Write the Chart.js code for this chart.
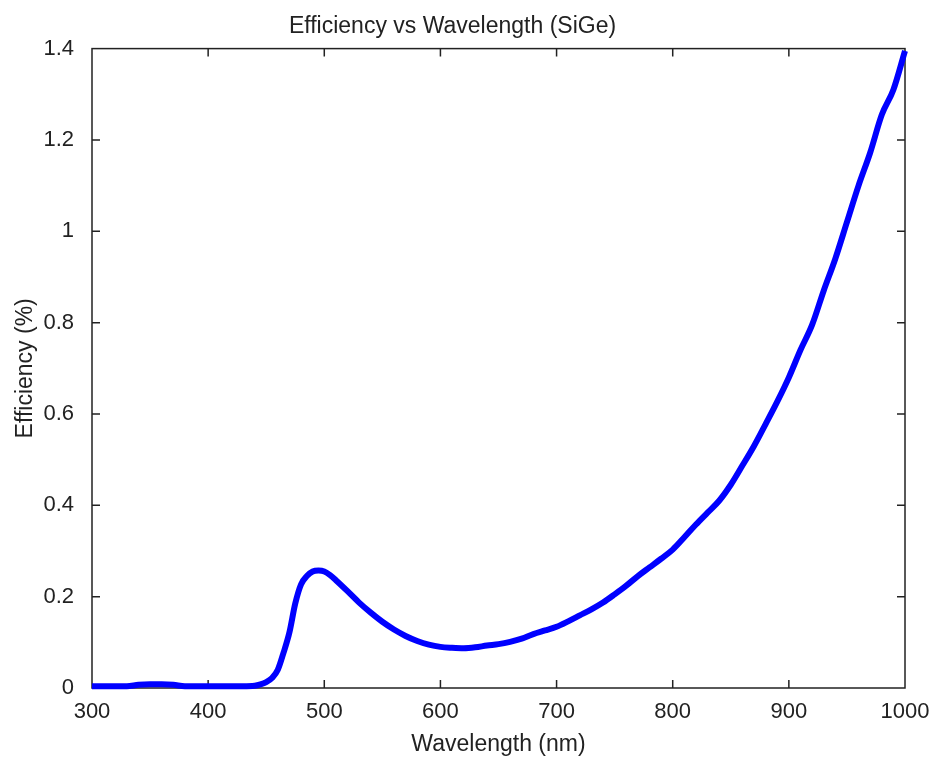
<!DOCTYPE html>
<html>
<head>
<meta charset="utf-8">
<title>Efficiency vs Wavelength (SiGe)</title>
<script src="https://cdn.jsdelivr.net/npm/chart.js@4/dist/chart.umd.min.js"></script>
<style>
  html, body { margin: 0; padding: 0; background: #fff; }
  #wrap { width: 936px; height: 760px; }
</style>
</head>
<body>
<div id="wrap"><canvas id="chart" width="936" height="760"></canvas></div>
<script>
// wavelength in nm
const wavelengths = [
  300, 310, 320, 330, 340, 350, 360, 370, 380, 390,
  400, 410, 420, 430, 440, 445, 450, 455, 460, 465,
  470, 475, 480, 485, 490, 495, 500, 505, 510, 520,
  530, 540, 550, 560, 570, 580, 590, 600, 610, 620,
  630, 640, 650, 660, 670, 680, 690, 700, 710, 720,
  730, 740, 750, 760, 770, 780, 790, 800, 810, 820,
  830, 840, 850, 860, 870, 880, 890, 900, 910, 920,
  930, 940, 950, 960, 970, 980, 990, 1000
];
// efficiency in %
const efficiency = [
  0.004, 0.004, 0.004, 0.004, 0.007, 0.008, 0.008, 0.007, 0.004, 0.004,
  0.004, 0.004, 0.004, 0.004, 0.005, 0.008, 0.013, 0.022, 0.040, 0.078,
  0.122, 0.185, 0.227, 0.245, 0.255, 0.257, 0.255, 0.247, 0.236, 0.212,
  0.187, 0.165, 0.145, 0.128, 0.114, 0.103, 0.095, 0.090, 0.088, 0.087,
  0.089, 0.093, 0.096, 0.101, 0.108, 0.118, 0.126, 0.134, 0.146, 0.159,
  0.172, 0.187, 0.205, 0.224, 0.245, 0.264, 0.283, 0.303, 0.330, 0.358,
  0.384, 0.410, 0.445, 0.487, 0.530, 0.578, 0.627, 0.680, 0.740, 0.795,
  0.870, 0.940, 1.020, 1.100, 1.172, 1.255, 1.310, 1.395
];
const xTicks = [300, 400, 500, 600, 700, 800, 900, 1000];
const yTicks = [0, 0.2, 0.4, 0.6, 0.8, 1, 1.2, 1.4];

const FONT = '"Liberation Sans", Arial, sans-serif';
const INK = '#222';

// box around the axes with inward ticks on all four sides
const frameTicks = {
  id: 'frameTicks',
  beforeDatasetsDraw(chart) {
    const { ctx, chartArea: a, scales } = chart;
    const len = 8;
    ctx.save();
    ctx.strokeStyle = INK;
    ctx.lineWidth = 1.5;
    ctx.strokeRect(a.left, a.top, a.right - a.left, a.bottom - a.top);
    ctx.beginPath();
    xTicks.slice(1, -1).forEach(v => {
      const px = scales.x.getPixelForValue(v);
      ctx.moveTo(px, a.bottom); ctx.lineTo(px, a.bottom - len);
      ctx.moveTo(px, a.top); ctx.lineTo(px, a.top + len);
    });
    yTicks.slice(1, -1).forEach(v => {
      const py = scales.y.getPixelForValue(v);
      ctx.moveTo(a.left, py); ctx.lineTo(a.left + len, py);
      ctx.moveTo(a.right, py); ctx.lineTo(a.right - len, py);
    });
    ctx.stroke();
    ctx.restore();
  }
};

new Chart(document.getElementById('chart'), {
  type: 'scatter',
  data: {
    datasets: [{
      data: wavelengths.map((w, i) => ({ x: w, y: efficiency[i] })),
      showLine: true,
      borderColor: '#0000ff',
      backgroundColor: '#0000ff',
      borderWidth: 6,
      pointRadius: 0,
      cubicInterpolationMode: 'monotone',
      clip: false
    }]
  },
  options: {
    responsive: false,
    animation: false,
    layout: { padding: { top: 0, right: 31, bottom: 0, left: 0 } },
    plugins: {
      legend: { display: false },
      tooltip: { enabled: false },
      title: {
        display: true,
        text: 'Efficiency vs Wavelength (SiGe)',
        color: INK,
        font: { family: FONT, size: 23, weight: 'normal', lineHeight: 1.2 },
        padding: { top: 13, bottom: 8 }
      }
    },
    scales: {
      x: {
        type: 'linear',
        min: 300,
        max: 1000,
        afterBuildTicks: s => { s.ticks = xTicks.map(v => ({ value: v })); },
        afterFit: s => { s.height = 72; },
        grid: { display: false },
        border: { display: false },
        ticks: {
          color: INK, padding: 3, font: { family: FONT, size: 22 },
          callback: v => String(v)
        },
        title: {
          display: true,
          text: 'Wavelength (nm)',
          color: INK,
          font: { family: FONT, size: 23, lineHeight: 1.2 },
          padding: { top: 0, bottom: 2 }
        }
      },
      y: {
        min: 0,
        max: 1.4,
        afterBuildTicks: s => { s.ticks = yTicks.map(v => ({ value: v })); },
        afterFit: s => { s.width = 92; },
        grid: { display: false },
        border: { display: false },
        ticks: {
          color: INK, padding: 10, font: { family: FONT, size: 22 },
          callback: v => String(v)
        },
        title: {
          display: true,
          text: 'Efficiency (%)',
          color: INK,
          font: { family: FONT, size: 23, lineHeight: 1.2 },
          padding: { top: 12, bottom: 0 }
        }
      }
    }
  },
  plugins: [frameTicks]
});
</script>
</body>
</html>
